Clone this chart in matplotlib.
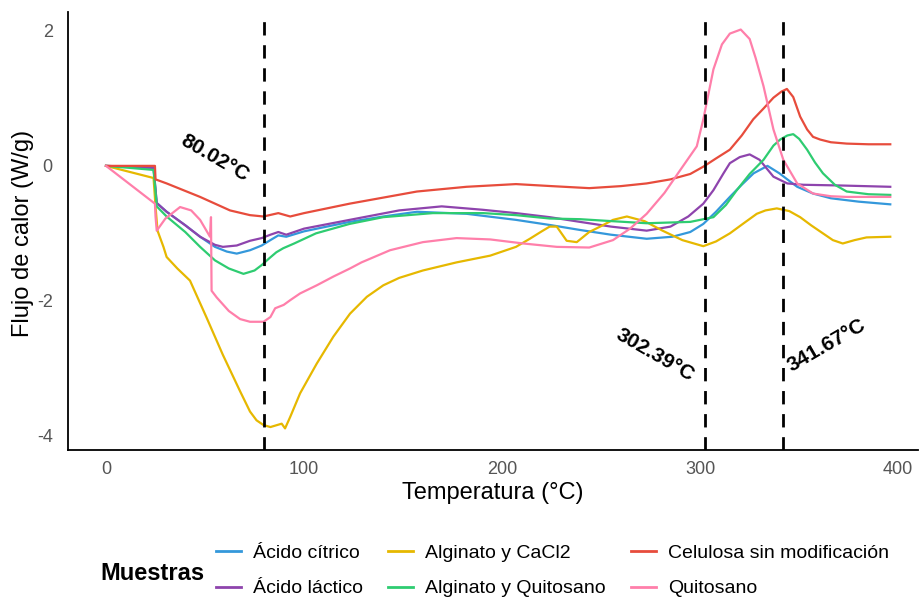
import matplotlib
matplotlib.use("Agg")
import matplotlib.pyplot as plt
from matplotlib.lines import Line2D

plt.rcParams['font.family'] = ['Liberation Sans', 'DejaVu Sans']
plt.rcParams['axes.unicode_minus'] = False

# ---------------- data ----------------
series_names = ["Ácido cítrico", "Ácido láctico", "Alginato y CaCl2",
                "Alginato y Quitosano", "Celulosa sin modificación", "Quitosano"]
series_colors = ["#3498DB", "#8E44AD", "#E6B800", "#2ECC71", "#E74C3C", "#FF7FAA"]

citrico_x = [0, 24, 25.6, 30.6, 40, 47.5, 55, 61, 66, 72.7, 78.6, 83, 87, 91, 100, 123, 140, 157, 182,
             207, 225, 239.4, 255, 273, 286, 295, 301.6, 308, 315, 321, 327, 334, 340, 344, 349, 357,
             366, 380, 396]
citrico_y = [0, -0.03, -0.55, -0.68, -0.88, -1.05, -1.2, -1.27, -1.3, -1.25, -1.18, -1.1, -1.03, -1.05,
             -0.97, -0.83, -0.75, -0.68, -0.71, -0.80, -0.88, -0.95, -1.02, -1.08, -1.05, -0.98, -0.86,
             -0.68, -0.46, -0.28, -0.11, 0.0, -0.11, -0.2, -0.31, -0.41, -0.48, -0.53, -0.57]

lactico_x = [0, 24, 25.6, 30.6, 40, 47.5, 55, 59, 66, 72.7, 78.6, 83, 87, 91, 100, 123, 148, 169.5, 190,
             207, 224, 239.4, 255, 273, 285, 294, 301.6, 306.7, 311.8, 315, 320, 325, 330, 337, 344,
             352, 370, 396]
lactico_y = [0, -0.03, -0.55, -0.68, -0.88, -1.05, -1.17, -1.2, -1.18, -1.11, -1.07, -1.02, -0.98, -1.02,
             -0.93, -0.80, -0.66, -0.60, -0.65, -0.70, -0.76, -0.83, -0.90, -0.96, -0.90, -0.75, -0.56,
             -0.36, -0.11, 0.04, 0.13, 0.17, 0.09, -0.16, -0.26, -0.28, -0.29, -0.31]

cacl2_x = [0, 24, 25, 26, 29, 30.6, 36, 42.4, 50.8, 59, 67.7, 72.7, 76, 79.5, 83, 88.7, 90.4, 93, 98,
           106.4, 114.8, 123.2, 131.7, 140, 148, 160, 177, 194, 207, 214, 220, 224, 227.6, 232.6,
           237.7, 244, 249.5, 256, 263, 272, 281, 291, 301.6, 308, 315, 322, 328.6, 333, 338.7, 345,
           350.5, 356, 362, 367, 372, 378, 384, 396]
cacl2_y = [0, -0.18, -0.6, -0.96, -1.2, -1.35, -1.52, -1.7, -2.25, -2.8, -3.34, -3.64, -3.77, -3.84,
           -3.87, -3.82, -3.89, -3.72, -3.37, -2.93, -2.53, -2.19, -1.94, -1.77, -1.66, -1.55, -1.43,
           -1.33, -1.2, -1.08, -0.97, -0.9, -0.9, -1.11, -1.13, -0.98, -0.9, -0.8, -0.75, -0.82, -0.96,
           -1.1, -1.19, -1.12, -1.0, -0.85, -0.71, -0.66, -0.63, -0.67, -0.76, -0.88, -1.0, -1.1,
           -1.15, -1.1, -1.06, -1.05]

algquit_x = [0, 24, 25.6, 30.6, 40, 47.5, 55, 62, 69.4, 75, 78.6, 82.8, 86, 89.5, 95, 106, 123, 140, 165,
             190.5, 207, 224, 239.4, 256, 273, 295, 306.7, 313, 318.5, 325, 332, 337, 340.4, 344, 347,
             350, 354, 358, 362, 368, 374, 385, 396]
algquit_y = [0, -0.06, -0.6, -0.75, -0.98, -1.2, -1.4, -1.52, -1.6, -1.55, -1.47, -1.36, -1.28, -1.22,
             -1.15, -1.0, -0.86, -0.76, -0.70, -0.70, -0.73, -0.78, -0.79, -0.82, -0.85, -0.83, -0.76,
             -0.58, -0.36, -0.12, 0.09, 0.3, 0.39, 0.45, 0.47, 0.40, 0.24, 0.05, -0.11, -0.28, -0.38,
             -0.42, -0.43]

celulosa_x = [0, 24.7, 25, 30.6, 47.5, 62.6, 72.7, 79.5, 84, 87, 93, 100, 123, 140, 157, 182, 207, 225,
              244, 260, 273, 285, 295, 301.7, 308, 315, 321, 326.8, 332, 337, 341, 343.8, 347, 350.5,
              354, 357, 360.6, 366, 374, 385, 396]
celulosa_y = [0, 0, -0.2, -0.26, -0.46, -0.66, -0.73, -0.75, -0.72, -0.70, -0.75, -0.70, -0.56, -0.47,
              -0.38, -0.31, -0.27, -0.30, -0.33, -0.30, -0.26, -0.20, -0.12, -0.01, 0.11, 0.24, 0.45,
              0.69, 0.85, 1.01, 1.10, 1.14, 1.02, 0.73, 0.54, 0.43, 0.39, 0.35, 0.33, 0.32, 0.32]

quitosano_x = [0, 24.7, 25, 25.6, 30, 37.4, 43, 47.5, 52.5, 53, 53.3, 55.9, 62, 67.7, 72.7, 79.5, 83,
               85.4, 89.7, 93, 98, 106.4, 114.8, 123.2, 129, 143.4, 160, 177, 194, 210.7, 227.6, 244,
               256, 264.6, 273, 282, 290, 298.3, 301.6, 306.7, 311, 315, 320.5, 325, 328, 332, 337,
               342, 349, 357, 366, 374, 396]
quitosano_y = [0, -0.56, -0.75, -0.96, -0.78, -0.61, -0.66, -0.8, -1.05, -0.76, -1.85, -1.95, -2.15,
               -2.27, -2.31, -2.31, -2.24, -2.11, -2.06, -1.99, -1.89, -1.77, -1.64, -1.52, -1.43,
               -1.25, -1.13, -1.07, -1.09, -1.15, -1.2, -1.21, -1.1, -0.93, -0.71, -0.4, -0.06, 0.29,
               0.69, 1.43, 1.8, 1.96, 2.02, 1.88, 1.6, 1.18, 0.54, 0.09, -0.26, -0.41, -0.45, -0.46, -0.46]

series_x = [citrico_x, lactico_x, cacl2_x, algquit_x, celulosa_x, quitosano_x]
series_y = [citrico_y, lactico_y, cacl2_y, algquit_y, celulosa_y, quitosano_y]

vlines = [80.02, 302.39, 341.67]
vline_labels = ["80.02°C", "302.39°C", "341.67°C"]
label_pos = [(55, 0.11, -30), (277, -2.80, -30), (364, -2.66, 30)]

x_ticks = [0, 100, 200, 300, 400]
y_ticks = [-4, -2, 0, 2]

# ---------------- figure ----------------
W, H = 920, 607
fig = plt.figure(figsize=(W / 100, H / 100), dpi=100)
ax = fig.add_axes([68 / W, 1 - 450 / H, (918 - 68) / W, (450 - 12) / H])

for xs, ys, c in zip(series_x, series_y, series_colors):
    ax.plot(xs, ys, color=c, lw=1.6, solid_joinstyle='round')

for v in vlines:
    ax.axvline(v, color='black', lw=2.0, ls=(0, (4.8, 3.5)))

for (tx, ty, rot), lab in zip(label_pos, vline_labels):
    ax.text(tx, ty, lab, rotation=rot, rotation_mode='anchor', ha='center', va='center',
            fontsize=15, fontweight='bold', color='black')

ax.set_xlim(-19.2, 410)
ax.set_ylim(-4.21, 2.28)
ax.set_xticks(x_ticks)
ax.set_yticks(y_ticks)
ax.tick_params(length=0, labelsize=13, labelcolor='#555555')
ax.tick_params(axis='x', pad=8)
ax.tick_params(axis='y', pad=11)
for s in ['top', 'right']:
    ax.spines[s].set_visible(False)
for s in ['left', 'bottom']:
    ax.spines[s].set_linewidth(1.3)
    ax.spines[s].set_color('black')

fig.text(493 / W, 1 - 493 / H, "Temperatura (°C)", ha='center', va='center', fontsize=17)
fig.text(23 / W, 1 - 233 / H, "Flujo de calor (W/g)", ha='center', va='center', fontsize=17, rotation=90)

fig.text(100 / W, 1 - 573 / H, "Muestras", ha='left', va='center', fontsize=17, fontweight='bold')
handles = [Line2D([0], [0], color=c, lw=2) for c in series_colors]
fig.legend(handles, series_names, ncol=3, loc='center left', bbox_to_anchor=(216 / W, 1 - 571 / H),
           frameon=False, fontsize=14, handlelength=1.3, handletextpad=0.6, columnspacing=1.3,
           labelspacing=0.9, borderaxespad=0, borderpad=0)

fig.savefig("out.png", dpi=100)
